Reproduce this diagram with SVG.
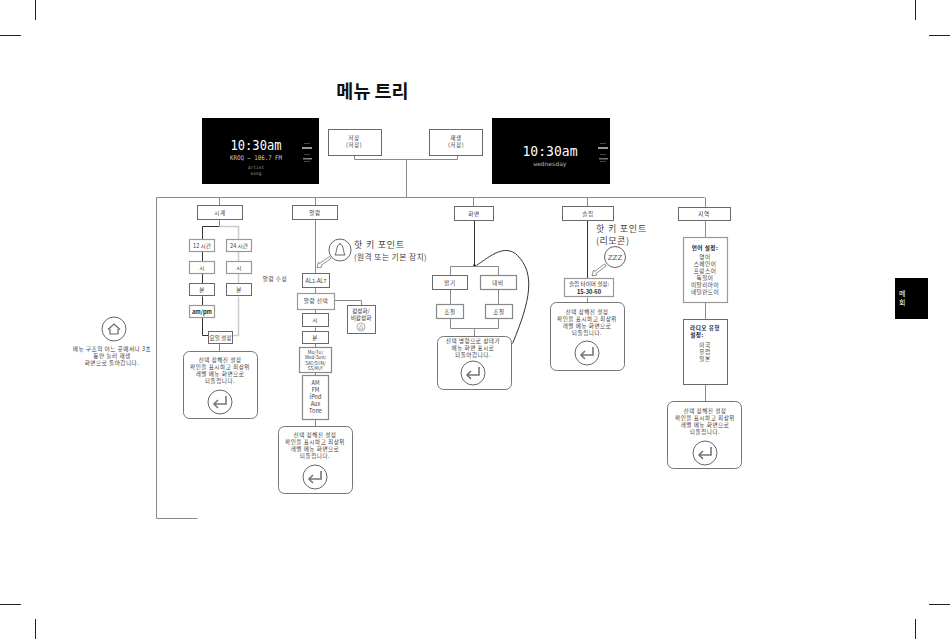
<svg xmlns="http://www.w3.org/2000/svg" width="950" height="639" viewBox="0 0 950 639">
<style>
text{font-family:"Noto Sans CJK KR","Liberation Sans",sans-serif;font-size:5.6px;letter-spacing:.5px;fill:#3a3a3a;text-anchor:middle}
.box{fill:#fff;stroke:#6a6a6a;stroke-width:1}
.lt{fill:#fff;stroke:#999;stroke-width:1.2}
.rb{fill:#fff;stroke:#666;stroke-width:.9}
.c{fill:none;stroke:#8a8a8a;stroke-width:1}
.d{fill:none;stroke:#333;stroke-width:1}
.p{fill:none;stroke:#ccc;stroke-width:1.5}
.crop{fill:none;stroke:#222;stroke-width:1}
.b{font-weight:700;fill:#222}
.s{font-family:"DejaVu Sans Mono",monospace;fill:#fff;letter-spacing:0}
.hot{font-size:9px;text-anchor:start;letter-spacing:.8px;fill:#444}
.hots{font-size:7.8px;text-anchor:start;letter-spacing:.4px;fill:#444}
.ic{fill:none;stroke:#666;stroke-width:1}
.n{letter-spacing:0}
</style>
<defs>
<g id="ret"><circle r="12" class="ic"/><path d="M6 -6V2H-6M-2 -2L-6 2L-2 6" fill="none" stroke="#777" stroke-width="1.6"/></g>
</defs>
<rect width="950" height="639" fill="#fff"/>
<g id="crop-marks"><path class="crop" d="M35.500 0V20M915.500 0V20M0 35.500H21M929 35.500H950M35.500 619V639M915.500 619V639M0 604.500H21M929 604.500H950"/></g>
<text x="372.500" y="98" class="b" style="font-size:18.500px;letter-spacing:0;fill:#111">메뉴 트리</text>
<g id="connectors" transform="translate(.5 .5)">
<path class="c" d="M354 155V159H457V155M406 159V197M156 197H704M156 197V518H197"/>
<path class="c" d="M219 197V205M315 197V205M473 197V206M587 197V206M705 197V207"/>
<path class="c" d="M219 219V226M219 343V351"/>
<path class="d" d="M219 226H202V239M202 251V261M202 273V283M202 296V305M202 317V335H208"/>
<path class="p" d="M219 226H238V239M238 251V261M238 273V283M238 296V335H233"/>
<path class="c" d="M315 219V273M315 287V293M315 309V313M315 327V331M315 343V347M315 372V375M315 419V426M334 300H361V305"/>
<path class="d" d="M474 220V265"/>
<circle cx="474" cy="265" r="1.2" fill="#111"/>
<path class="c" d="M450 275V266H498V275M450 289V304M498 289V304M450 318V328H498V318M474 328V336"/>
<path class="d" d="M512 343C530 300 535 273 517 255C505 243 490 255 476 265" stroke-width=".8"/>
<path class="d" d="M587 220V278"/>
<path class="c" d="M587 297V302M705 220V237M705 302V319M705 384V401"/>
</g>
<g id="screen-left"><rect x="202" y="118" width="117" height="66" fill="#000"/>
<text x="256" y="150" class="s" style="font-size:14px" textLength="51" lengthAdjust="spacingAndGlyphs">10:30am</text>
<text x="256" y="160" class="s" style="font-size:6.5px;fill:#ccc" textLength="52" lengthAdjust="spacingAndGlyphs">KROQ — 106.7 FM</text>
<text x="256" y="169" class="s" style="font-size:4.5px;fill:#999">artist</text>
<text x="256" y="175" class="s" style="font-size:4.5px;fill:#999">song</text>
<rect x="302" y="147" width="10" height="2" fill="#999"/><rect x="304" y="143" width="6" height="1" fill="#444"/><rect x="303" y="158" width="9" height="1.5" fill="#888"/><rect x="304" y="154" width="6" height="1" fill="#444"/><rect x="304" y="161" width="6" height="1" fill="#444"/></g>
<g id="screen-right"><rect x="492" y="118" width="118" height="66" fill="#000"/>
<text x="550" y="156" class="s" style="font-size:14px" textLength="55" lengthAdjust="spacingAndGlyphs">10:30am</text>
<text x="550" y="166" class="s" style="font-size:6px;fill:#bbb" textLength="33" lengthAdjust="spacingAndGlyphs">wednesday</text>
<rect x="598" y="147" width="10" height="2" fill="#999"/><rect x="600" y="143" width="6" height="1" fill="#444"/><rect x="599" y="158" width="9" height="1.5" fill="#777"/><rect x="600" y="154" width="6" height="1" fill="#444"/><rect x="600" y="161" width="6" height="1" fill="#444"/></g>
<g id="n-save"><rect class="box" x="328.500" y="129.500" width="53" height="26"/><text x="354" y="140">저장</text><text x="354" y="147">(저장)</text></g>
<g id="n-play"><rect class="box" x="429.500" y="129.500" width="53" height="26"/><text x="456" y="140">재생</text><text x="456" y="147">(저장)</text></g>
<g id="n-clock"><rect class="box" x="197.500" y="205.500" width="45" height="14"/><text x="220" y="214.500">시계</text></g>
<g id="n-alarm"><rect class="box" x="292.500" y="205.500" width="45" height="14"/><text x="315" y="214.500">알람</text></g>
<g id="n-screen"><rect class="box" x="454.500" y="206.500" width="39" height="14"/><text x="474" y="215.500">화면</text></g>
<g id="n-sleep"><rect class="box" x="562.500" y="206.500" width="51" height="14"/><text x="588" y="215.500">슬립</text></g>
<g id="n-region"><rect class="box" x="678.500" y="207.500" width="52" height="13"/><text x="704" y="216">지역</text></g>
<g id="n-12h"><rect class="lt" x="189.500" y="239.500" width="25" height="12"/><text x="202" y="247.500" class="n">12 시간</text></g>
<g id="n-24h"><rect class="lt" x="226.500" y="239.500" width="25" height="12"/><text x="239" y="247.500" class="n">24 시간</text></g>
<g id="n-h12"><rect class="lt" x="189.500" y="261.500" width="25" height="12"/><text x="202" y="269.500">시</text></g>
<g id="n-h24"><rect class="lt" x="226.500" y="261.500" width="25" height="12"/><text x="239" y="269.500">시</text></g>
<g id="n-m12"><rect class="box" x="189.500" y="283.500" width="25" height="12"/><text x="202" y="291.500">분</text></g>
<g id="n-m24"><rect class="box" x="226.500" y="283.500" width="25" height="12"/><text x="239" y="291.500">분</text></g>
<g id="n-ampm"><rect class="lt" x="189.500" y="305.500" width="25" height="12"/><text x="202" y="313.500" class="b n">am/pm</text></g>
<g id="n-day"><rect class="box" x="208.500" y="331.500" width="24" height="12"/><text x="220.500" y="339.500" class="n">요일 설정</text></g>
<g id="n-ret-clock"><rect class="rb" x="183.500" y="351.500" width="74" height="67" rx="6"/><text x="220" y="362">선택 정해진 설정</text><text x="220" y="369">확인을 표시하고 최상위</text><text x="220" y="376">레벨 메뉴 화면으로</text><text x="220" y="383">되돌립니다.</text><use href="#ret" x="220" y="402"/></g>
<g id="n-home"><circle class="ic" cx="114" cy="329" r="12"/><path d="M108 329.500L114 324L120 329.500M110 329V334H118V329" fill="none" stroke="#666" stroke-width="1.200"/><text x="112" y="351">메뉴 구조의 어느 곳에서나 3초</text><text x="112" y="358">동안 눌러 재생</text><text x="112" y="365">화면으로 돌아갑니다.</text></g>
<g id="n-alarm-edit"><text x="275" y="281">알람 수정</text></g>
<g id="n-hot-alarm"><circle class="ic" cx="340" cy="250" r="11"/><path d="M335 255C337 252 336 245 340 244C344 245 343 252 345 255ZM340 243V244" fill="none" stroke="#666"/><path d="M317 268L322 267L321 265.500L331 258.500L329.500 256.500L319.500 263.500L318.500 262Z" fill="#fff" stroke="#777" stroke-width=".8"/><text x="354" y="248" class="hot">핫 키 포인트</text><text x="354" y="260" class="hots">(원격 또는 기본 장치)</text></g>
<g id="n-al"><rect class="box" x="302.500" y="273.500" width="27" height="14"/><text x="316" y="282.500" class="n">AL1-AL7</text></g>
<g id="n-select"><rect class="lt" x="297.500" y="293.500" width="37" height="16"/><text x="316" y="303">알람 선택</text></g>
<g id="n-onoff"><rect class="box" x="347.500" y="305.500" width="28" height="28"/><text x="361" y="313" class="n">활성화/</text><text x="361" y="320" class="n">비활성화</text><circle cx="361" cy="327" r="4" fill="none" stroke="#888" stroke-width=".7"/><path d="M359 329C360 328 360 325 361 325C362 325 362 328 363 329Z" fill="none" stroke="#888" stroke-width=".6"/></g>
<g id="n-ah"><rect class="box" x="302.500" y="313.500" width="26" height="13"/><text x="315" y="322">시</text></g>
<g id="n-am"><rect class="box" x="302.500" y="331.500" width="26" height="12"/><text x="315" y="339.500">분</text></g>
<g id="n-days"><rect class="lt" x="299.500" y="347.500" width="32" height="25" style="stroke:#888"/><text x="315.500" y="353.500" class="n" style="font-size:4.600px">Mo/Tu/</text><text x="315.500" y="359" class="n" style="font-size:4.600px">Wed-Sun/</text><text x="315.500" y="364.500" class="n" style="font-size:4.600px">SAT/SUN/</text><text x="315.500" y="370" class="n" style="font-size:4.600px">SS/M/F</text></g>
<g id="n-source"><rect class="lt" x="302.500" y="375.500" width="26" height="44" style="stroke:#888"/><text x="315.500" y="385" class="n">AM</text><text x="315.500" y="392" class="n">FM</text><text x="315.500" y="399" class="n">iPod</text><text x="315.500" y="406" class="n">Aux</text><text x="315.500" y="413" class="n">Tone</text></g>
<g id="n-ret-alarm"><rect class="rb" x="278.500" y="426.500" width="74" height="67" rx="6"/><text x="315" y="437">선택 정해진 설정</text><text x="315" y="444">확인을 표시하고 최상위</text><text x="315" y="451">레벨 메뉴 화면으로</text><text x="315" y="458">되돌립니다.</text><use href="#ret" x="315" y="477"/></g>
<g id="n-bright"><rect class="box" x="432.500" y="275.500" width="35" height="14"/><text x="450" y="284.500">밝기</text></g>
<g id="n-contrast"><rect class="lt" x="480.500" y="275.500" width="36" height="14" style="stroke:#888"/><text x="498" y="284.500">대비</text></g>
<g id="n-adj1"><rect class="lt" x="436.500" y="304.500" width="27" height="14" style="stroke:#888"/><text x="450" y="313.500">조절</text></g>
<g id="n-adj2"><rect class="lt" x="485.500" y="304.500" width="27" height="14" style="stroke:#888"/><text x="499" y="313.500">조절</text></g>
<g id="n-ret-screen"><rect class="rb" x="437.500" y="336.500" width="74" height="53" rx="6"/><text x="473" y="343">선택 명령으로 상태가</text><text x="473" y="350">메뉴 화면 표시로</text><text x="473" y="357">되돌아갑니다.</text><use href="#ret" x="473" y="373"/></g>
<g id="n-hot-sleep"><text x="596" y="232" class="hot">핫 키 포인트</text><text x="596" y="244" class="hot" style="letter-spacing:.5px">(리모콘)</text><circle class="ic" cx="615" cy="257" r="10.500"/><text x="615" y="260" class="n" style="font-size:8px;font-family:'Liberation Sans',sans-serif;fill:#555">ZZZ</text><path d="M592 276L597 275L596 273.500L606 266L604.500 264L594.500 271.500L593.500 270Z" fill="#fff" stroke="#777" stroke-width=".8"/></g>
<g id="n-timer"><rect class="lt" x="564.500" y="278.500" width="49" height="18" style="stroke:#999"/><text x="589" y="286" class="n">슬립 타이머 설정:</text><text x="589" y="293.500" class="b n">15-30-60</text></g>
<g id="n-ret-sleep"><rect class="rb" x="550.500" y="302.500" width="74" height="68" rx="6"/><text x="587" y="314">선택 정해진 설정</text><text x="587" y="321">확인을 표시하고 최상위</text><text x="587" y="328">레벨 메뉴 화면으로</text><text x="587" y="335">되돌립니다.</text><use href="#ret" x="587" y="353"/></g>
<g id="n-lang"><rect class="lt" x="683.500" y="237.500" width="44" height="65" style="stroke:#999"/><text x="705" y="250" class="b">언어 설정:</text><text x="705" y="259">영어</text><text x="705" y="266">스페인어</text><text x="705" y="273">프랑스어</text><text x="705" y="280">독일어</text><text x="705" y="287">이탈리아어</text><text x="705" y="294">네덜란드어</text></g>
<g id="n-radio"><rect class="box" x="683.500" y="319.500" width="44" height="65"/><text x="705" y="330" class="b">라디오 유형</text><text x="697" y="337" class="b">설정:</text><text x="705" y="347">미국</text><text x="705" y="354">유럽</text><text x="705" y="361">일본</text></g>
<g id="n-ret-region"><rect class="rb" x="667.500" y="401.500" width="74" height="67" rx="6"/><text x="705" y="413">선택 정해진 설정</text><text x="705" y="420">확인을 표시하고 최상위</text><text x="705" y="427">레벨 메뉴 화면으로</text><text x="705" y="434">되돌립니다.</text><use href="#ret" x="705" y="453"/></g>
<g id="tab"><rect x="895" y="278" width="33" height="41" fill="#000"/><text x="902.500" y="296" style="fill:#fff;font-size:7px">메</text><text x="902.500" y="305" style="fill:#fff;font-size:7px">회</text></g>
</svg>
